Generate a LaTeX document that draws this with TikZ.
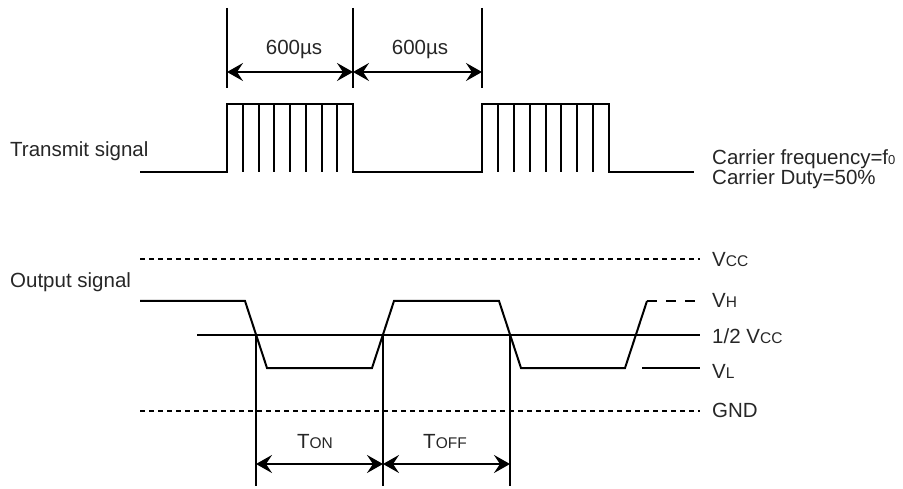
\documentclass[tikz,border=0pt]{standalone}
\usepackage{fontspec}
\setmainfont{Liberation Sans}
\usetikzlibrary{arrows.meta}
\newcommand{\smc}[1]{{\fontsize{15.5}{18}\selectfont #1}}
\begin{document}
\begin{tikzpicture}[x=1pt,y=-1pt,
  sig/.style={line width=2pt, line join=miter},
  dotline/.style={line width=2pt, dash pattern=on 5pt off 4pt},
  dashline/.style={line width=2pt, dash pattern=on 10pt off 9pt},
  dimarrow/.style={line width=2pt, {Stealth[length=16pt,width=18pt,inset=6pt]}-{Stealth[length=16pt,width=18pt,inset=6pt]}},
  lbl/.style={inner sep=0pt, font=\fontsize{20.5}{20.5}\selectfont, text=black!85},
]
\useasboundingbox (0,0) rectangle (903,489);

% ---------- Transmit signal ----------
\node[lbl, anchor=base west] (tlbl) at (10,157) {Transmit signal};
\draw[sig] (140,172) -- (227,172) -- (227,104) -- (353,104) -- (353,172)
  -- (482,172) -- (482,104) -- (609,104) -- (609,172) -- (694,172);
\foreach \k in {1,...,7}{
  \draw[sig] ({227+15.75*\k},104) -- ({227+15.75*\k},172);
  \draw[sig] ({482+15.875*\k},104) -- ({482+15.875*\k},172);
}
% dimension lines
\coordinate (d1t) at (227,8); \coordinate (d1b) at (227,88);
\coordinate (d2t) at (353,8); \coordinate (d2b) at (353,88);
\coordinate (d3t) at (482,8); \coordinate (d3b) at (482,88);
\draw[sig] (d1t) -- (d1b);
\draw[sig] (d2t) -- (d2b);
\draw[sig] (d3t) -- (d3b);
\coordinate (a1) at (227,72); \coordinate (a2) at (353,72); \coordinate (a3) at (482,72);
\draw[dimarrow] (a1) -- (a2);
\draw[dimarrow] (a2) -- (a3);
\node[lbl, anchor=base] (t600a) at (294,55) {600µs};
\node[lbl, anchor=base] (t600b) at (420,55) {600µs};

\node[lbl, anchor=base west] (carf) at (712,165) {Carrier frequency=f{\fontsize{13}{14}\selectfont 0}};
\node[lbl, anchor=base west] (card) at (712,185) {Carrier Duty=50\%};

% ---------- Output signal ----------
\node[lbl, anchor=base west] (olbl) at (10,288) {Output signal};
\coordinate (vccL) at (140,259); \coordinate (vccR) at (700,259);
\draw[dotline] (vccL) -- (vccR);
\coordinate (gndL) at (140,411); \coordinate (gndR) at (700,411);
\draw[dotline] (gndL) -- (gndR);
\coordinate (halfL) at (197,335); \coordinate (halfR) at (700,335);
\draw[sig] (halfL) -- (halfR);
\coordinate (vlL) at (642,368); \coordinate (vlR) at (700,368);
\draw[sig] (vlL) -- (vlR);

\draw[sig] (140,301) -- (245,301) -- (267,368) -- (372,368) -- (394,301)
  -- (499,301) -- (521,368) -- (625,368) -- (647,301) coordinate (vhS);
\coordinate (vhE) at (700,301);
\draw[dashline] (vhS) -- (vhE);

\node[lbl, anchor=base west] (lvcc) at (712,267) {V\smc{CC}};
\node[lbl, anchor=base west] (lvh) at (712,308) {V\smc{H}};
\node[lbl, anchor=base west] (lhalf) at (712,343) {1/2 V\smc{CC}};
\node[lbl, anchor=base west] (lvl) at (712,378) {V\smc{L}};
\node[lbl, anchor=base west] (lgnd) at (712,417) {GND};

% timing dimension lines
\coordinate (m1t) at (256,335); \coordinate (m1b) at (256,486);
\coordinate (m2t) at (383,335); \coordinate (m2b) at (383,486);
\coordinate (m3t) at (510,335); \coordinate (m3b) at (510,486);
\draw[sig] (m1t) -- (m1b);
\draw[sig] (m2t) -- (m2b);
\draw[sig] (m3t) -- (m3b);
\coordinate (b1) at (256,464); \coordinate (b2) at (383,464); \coordinate (b3) at (510,464);
\draw[dimarrow] (b1) -- (b2);
\draw[dimarrow] (b2) -- (b3);
\node[lbl, anchor=base] (ton) at (315,448) {T\smc{ON}};
\node[lbl, anchor=base] (toff) at (445,448) {T\smc{OFF}};
\end{tikzpicture}
\end{document}
